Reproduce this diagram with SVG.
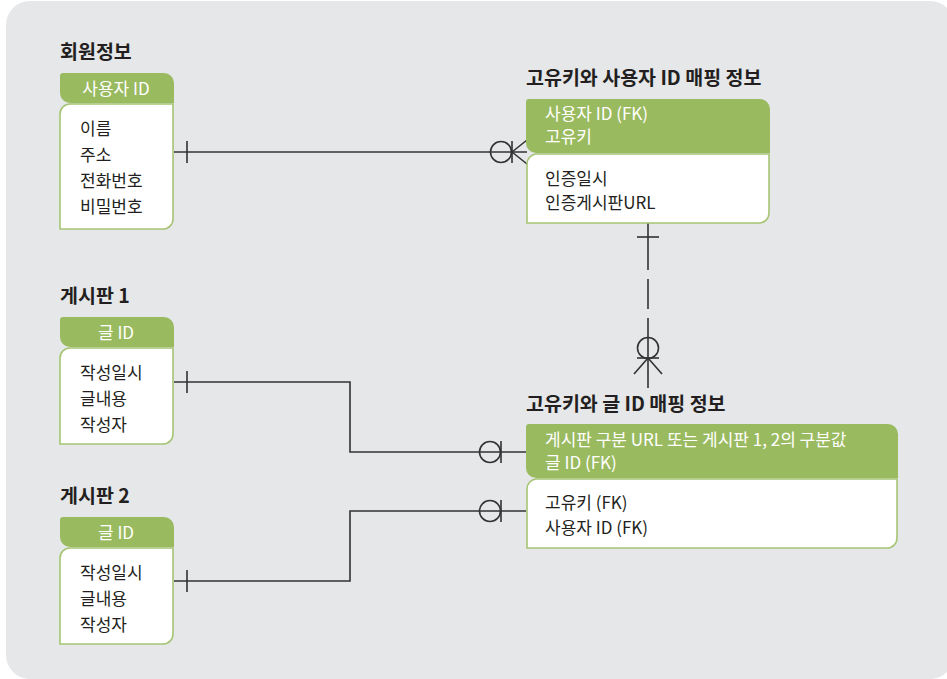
<svg xmlns="http://www.w3.org/2000/svg" width="947" height="679" viewBox="0 0 947 679">
<style>
  .title { font-family: "Noto Sans CJK KR", "Liberation Sans", sans-serif; font-size: 19.5px; font-weight: bold; fill: #231f20; }
  .hdr { fill: #9aba60; }
  .body { fill: #ffffff; stroke: #a6c574; stroke-width: 1.6; }
  .ht { font-family: "Noto Sans CJK KR", "Liberation Sans", sans-serif; font-size: 17px; fill: #ffffff; }
  .bt { font-family: "Noto Sans CJK KR", "Liberation Sans", sans-serif; font-size: 17px; fill: #231f20; }
  .ln { fill: none; stroke: #333333; stroke-width: 1.6; }
</style>
<rect x="6" y="1" width="948" height="678" rx="24" fill="#e6e7e9"/>

<g id="connectors">
  <line class="ln" x1="174" y1="152" x2="527" y2="152"/>
  <line class="ln" x1="187" y1="141" x2="187" y2="163"/>
  <circle class="ln" cx="501" cy="152" r="10.5"/>
  <line class="ln" x1="512" y1="141" x2="512" y2="163"/>
  <line class="ln" x1="512" y1="152" x2="527" y2="140"/>
  <line class="ln" x1="512" y1="152" x2="527" y2="164"/>

  <line class="ln" x1="648" y1="223" x2="648" y2="270"/>
  <line class="ln" x1="648" y1="279" x2="648" y2="309"/>
  <line class="ln" x1="648" y1="318" x2="648" y2="388"/>
  <line class="ln" x1="637" y1="237" x2="659" y2="237"/>
  <circle class="ln" cx="648" cy="348" r="10.5"/>
  <line class="ln" x1="637" y1="358" x2="659" y2="358"/>
  <line class="ln" x1="648" y1="358" x2="634" y2="374"/>
  <line class="ln" x1="648" y1="358" x2="662" y2="374"/>

  <polyline class="ln" points="174,382 350,382 350,452 526,452"/>
  <line class="ln" x1="187" y1="371" x2="187" y2="393"/>
  <circle class="ln" cx="490" cy="452" r="10.5"/>
  <line class="ln" x1="501" y1="441" x2="501" y2="463"/>

  <polyline class="ln" points="174,581 350,581 350,511 526,511"/>
  <line class="ln" x1="187" y1="570" x2="187" y2="592"/>
  <circle class="ln" cx="490" cy="511" r="10.5"/>
  <line class="ln" x1="501" y1="500" x2="501" y2="522"/>
</g>

<g id="member">
  <text class="title" x="60" y="59">회원정보</text>
  <path class="hdr" d="M63,73 H164 A10,10 0 0 1 174,83 V103 H70 A10,10 0 0 1 60,93 V76 A3,3 0 0 1 63,73 Z"/>
  <path class="body" d="M70,104 H173 V219 A10,10 0 0 1 163,229 H60 V114 A10,10 0 0 1 70,104 Z"/>
  <text class="ht" x="116" y="95" text-anchor="middle">사용자 ID</text>
  <text class="bt" x="80" y="135">이름</text>
  <text class="bt" x="80" y="161">주소</text>
  <text class="bt" x="80" y="187">전화번호</text>
  <text class="bt" x="80" y="213">비밀번호</text>
</g>

<g id="key-user-map">
  <text class="title" x="526" y="85">고유키와 사용자 ID 매핑 정보</text>
  <path class="hdr" d="M529,99 H760 A10,10 0 0 1 770,109 V153 H536 A10,10 0 0 1 526,143 V102 A3,3 0 0 1 529,99 Z"/>
  <path class="body" d="M536,154 H769 V213 A10,10 0 0 1 759,223 H527 V164 A10,10 0 0 1 536,154 Z"/>
  <text class="ht" x="545" y="120">사용자 ID (FK)</text>
  <text class="ht" x="545" y="143">고유키</text>
  <text class="bt" x="545" y="185">인증일시</text>
  <text class="bt" x="545" y="209">인증게시판URL</text>
</g>

<g id="board1">
  <text class="title" x="60" y="303">게시판 1</text>
  <path class="hdr" d="M63,317 H164 A10,10 0 0 1 174,327 V347 H70 A10,10 0 0 1 60,337 V320 A3,3 0 0 1 63,317 Z"/>
  <path class="body" d="M70,348 H173 V434 A10,10 0 0 1 163,444 H60 V358 A10,10 0 0 1 70,348 Z"/>
  <text class="ht" x="116" y="339" text-anchor="middle">글 ID</text>
  <text class="bt" x="80" y="379">작성일시</text>
  <text class="bt" x="80" y="405">글내용</text>
  <text class="bt" x="80" y="431">작성자</text>
</g>

<g id="board2">
  <text class="title" x="60" y="503">게시판 2</text>
  <path class="hdr" d="M63,517 H164 A10,10 0 0 1 174,527 V547 H70 A10,10 0 0 1 60,537 V520 A3,3 0 0 1 63,517 Z"/>
  <path class="body" d="M70,548 H173 V634 A10,10 0 0 1 163,644 H60 V558 A10,10 0 0 1 70,548 Z"/>
  <text class="ht" x="116" y="539" text-anchor="middle">글 ID</text>
  <text class="bt" x="80" y="579">작성일시</text>
  <text class="bt" x="80" y="605">글내용</text>
  <text class="bt" x="80" y="631">작성자</text>
</g>

<g id="key-post-map">
  <text class="title" x="526" y="411">고유키와 글 ID 매핑 정보</text>
  <path class="hdr" d="M529,424 H888 A10,10 0 0 1 898,434 V478 H536 A10,10 0 0 1 526,468 V427 A3,3 0 0 1 529,424 Z"/>
  <path class="body" d="M536,479 H897 V538 A10,10 0 0 1 887,548 H527 V489 A10,10 0 0 1 536,479 Z"/>
  <text class="ht" x="545" y="446">게시판 구분 URL 또는 게시판 1, 2의 구분값</text>
  <text class="ht" x="545" y="469">글 ID (FK)</text>
  <text class="bt" x="545" y="509">고유키 (FK)</text>
  <text class="bt" x="545" y="534">사용자 ID (FK)</text>
</g>
</svg>
